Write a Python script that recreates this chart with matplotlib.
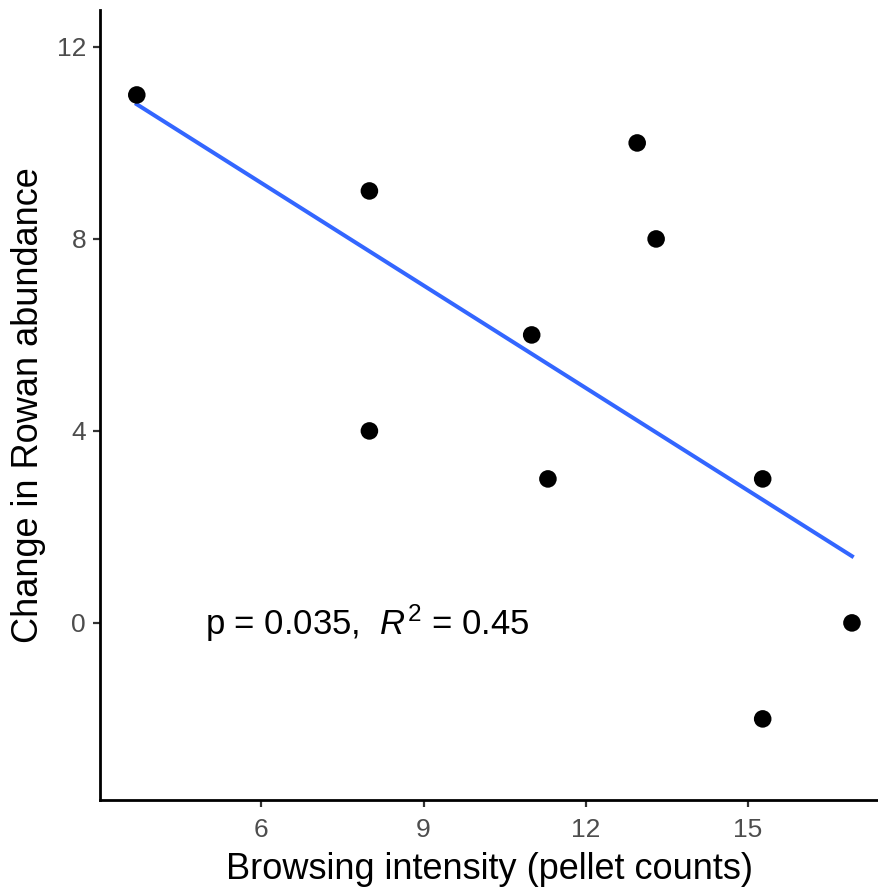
import numpy as np
import matplotlib
matplotlib.use("Agg")
import matplotlib.pyplot as plt

# browsing intensity (pellet counts) and change in rowan abundance
pellets = [3.7, 8, 8, 11, 11.3, 12.95, 13.3, 15.27, 15.27, 16.92]
rowan_change = [11, 9, 4, 6, 3, 10, 8, 3, -2, 0]
x_ticks = [6, 9, 12, 15]
y_ticks = [0, 4, 8, 12]
stats_label = r"p = 0.035,  $\mathit{R}^2$ = 0.45"

plt.rcParams["font.family"] = ["Liberation Sans", "DejaVu Sans"]
plt.rcParams["mathtext.fontset"] = "custom"
plt.rcParams["mathtext.rm"] = "Liberation Sans"
plt.rcParams["mathtext.it"] = "Liberation Sans:italic"

fig = plt.figure(figsize=(8.79, 8.91), dpi=100)
ax = fig.add_axes([100 / 879, 91 / 891, 779 / 879, 790 / 891])

# linear fit like geom_smooth(method = "lm")
slope, intercept = np.polyfit(pellets, rowan_change, 1)
xs = np.array([min(pellets), max(pellets)])
ax.plot(xs, intercept + slope * xs, color="#3366FF", lw=2.9, zorder=2)

ax.scatter(pellets, rowan_change, s=160, color="black", edgecolors="none", zorder=3)

ax.text(7.96, 0, stats_label, ha="center", va="center", fontsize=25, color="black")

ax.set_xlim(3.02, 17.42)
ax.set_ylim(-3.69, 12.77)
ax.set_xticks(x_ticks)
ax.set_yticks(y_ticks)

for side in ("top", "right"):
    ax.spines[side].set_visible(False)
for side in ("left", "bottom"):
    ax.spines[side].set_linewidth(2.0)
    ax.spines[side].set_color("black")
ax.tick_params(length=5, width=1.6, color="#333333", labelcolor="#4D4D4D",
               labelsize=19)
ax.tick_params(axis="x", pad=8)
ax.tick_params(axis="y", pad=5)

ax.set_xlabel("Browsing intensity (pellet counts)", fontsize=26, labelpad=7)
ax.set_ylabel("Change in Rowan abundance", fontsize=26, labelpad=8)

fig.savefig("out.png", dpi=100)
